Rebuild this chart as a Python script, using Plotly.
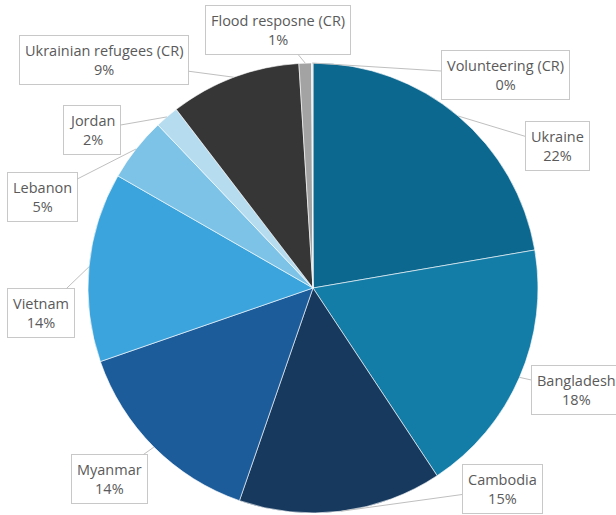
import math
import plotly.graph_objects as go

# Share of programme spending by destination (percent)
labels = ["Ukraine", "Bangladesh", "Cambodia", "Myanmar", "Vietnam", "Lebanon",
          "Jordan", "Ukrainian refugees (CR)", "Flood resposne (CR)", "Volunteering (CR)"]
values = [22.3, 18.4, 14.6, 14.4, 13.6, 4.6, 1.7, 9.4, 0.9, 0.1]
colors = ["#0D6890", "#137CA7", "#17395E", "#1D5C9A", "#3CA4DC", "#7DC3E7",
          "#B6DCF0", "#363636", "#A3A3A3", "#E6E6E6"]

W, H = 616, 515
CX, CY, R = 313, 288, 225          # pie centre and radius in pixels

# Where each callout box sits (pixel centre)
box_centres = {
    "Ukraine": (557, 146),
    "Bangladesh": (576, 390),
    "Cambodia": (502, 489),
    "Myanmar": (109, 479),
    "Vietnam": (41, 313),
    "Lebanon": (42, 197),
    "Jordan": (92, 130),
    "Ukrainian refugees (CR)": (104, 60),
    "Flood resposne (CR)": (278, 30),
    "Volunteering (CR)": (505, 75),
}

fig = go.Figure(go.Pie(
    labels=labels, values=values, sort=False, direction="clockwise", rotation=0,
    marker=dict(colors=colors, line=dict(color="rgba(255,255,255,0.6)", width=1)),
    textinfo="none", hoverinfo="label+percent", showlegend=False,
    domain=dict(x=[(CX - R) / W, (CX + R) / W],
                y=[(H - CY - R) / H, (H - CY + R) / H]),
))

total = sum(values)
annotations = []
cum = 0.0
for name, v in zip(labels, values):
    mid = (cum + v / 2) / total * 2 * math.pi
    cum += v
    tx = CX + R * math.sin(mid)
    ty = CY - R * math.cos(mid)
    bx, by = box_centres[name]
    pct = round(v / total * 100)
    annotations.append(dict(
        x=tx / W, y=1 - ty / H, xref="paper", yref="paper",
        ax=bx - tx, ay=by - ty, axref="pixel", ayref="pixel",
        text=f"{name}<br>{pct}%", showarrow=True, arrowhead=0, arrowwidth=1,
        arrowcolor="#BFBFBF", standoff=0,
        font=dict(family="Open Sans", size=14.5, color="#5A5A5A"),
        bgcolor="white", bordercolor="#C8C8C8", borderwidth=1, borderpad=5,
        align="center",
    ))

fig.update_layout(
    width=W, height=H, margin=dict(l=0, r=0, t=0, b=0),
    paper_bgcolor="white", plot_bgcolor="white",
    annotations=annotations,
)

fig.write_html("out.html")
